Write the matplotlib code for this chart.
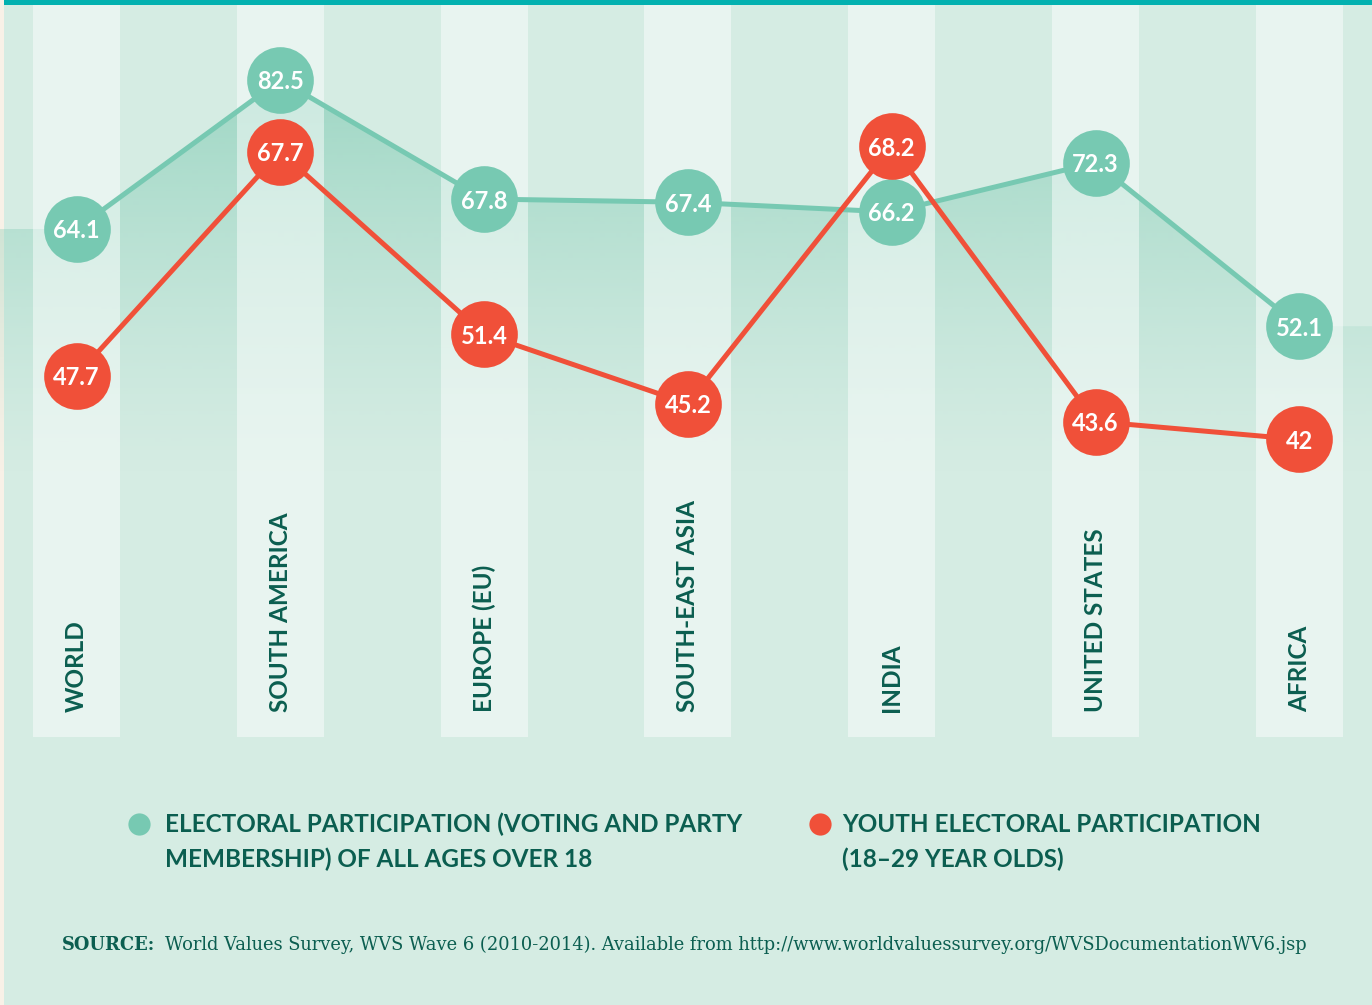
import numpy as np
import matplotlib
matplotlib.use("Agg")
import matplotlib.pyplot as plt
from matplotlib.colors import to_rgb

# ---------------- data ----------------
categories = ["WORLD", "SOUTH AMERICA", "EUROPE (EU)", "SOUTH-EAST ASIA",
              "INDIA", "UNITED STATES", "AFRICA"]
all_ages = [64.1, 82.5, 67.8, 67.4, 66.2, 72.3, 52.1]
youth = [47.7, 67.7, 51.4, 45.2, 68.2, 43.6, 42]
value_labels_all = ["64.1", "82.5", "67.8", "67.4", "66.2", "72.3", "52.1"]
value_labels_youth = ["47.7", "67.7", "51.4", "45.2", "68.2", "43.6", "42"]
legend_all = "ELECTORAL PARTICIPATION (VOTING AND PARTY\nMEMBERSHIP) OF ALL AGES OVER 18"
legend_youth = "YOUTH ELECTORAL PARTICIPATION\n(18\u201329 YEAR OLDS)"
source_head = "SOURCE:"
source_body = ("World Values Survey, WVS Wave 6 (2010-2014). Available from "
               "http://www.worldvaluessurvey.org/WVSDocumentationWV6.jsp")

# ---------------- style ----------------
W, H = 1372, 1005
BG = "#d5ece3"
GREEN = "#77c9b2"
RED = "#f05039"
DARK = "#0b5e50"
FONT = "Lato"

fig = plt.figure(figsize=(W / 100, H / 100), dpi=100)
fig.patch.set_facecolor(BG)

x = np.arange(len(categories))
XLIM = (-0.3754, 6.3567)
G_LIM = (-31.7, 92.37)   # separate value scales for the two series
R_LIM = (-8.5, 81.24)


def make_ax(z):
    a = fig.add_axes([0, 0, 1, 1], zorder=z)
    a.set_xlim(*XLIM)
    a.patch.set_alpha(0)
    a.axis("off")
    return a


# pixel axes for frame decorations
ax_px = make_ax(0)
ax_px.set_xlim(0, W)
ax_px.set_ylim(H, 0)
ax_px.add_patch(plt.Rectangle((0, 0), W, 5, color="#02b1b0", lw=0))
ax_px.add_patch(plt.Rectangle((0, 0), 4, H, color="#f8f1e7", lw=0))

# gradient area under the all-ages line
ax_a = make_ax(1)
ax_a.set_ylim(*G_LIM)
xe = np.concatenate([[XLIM[0]], x, [XLIM[1]]])
ye = np.concatenate([[all_ages[0]], all_ages, [all_ages[-1]]])
poly = ax_a.fill_between(xe, ye, G_LIM[0], facecolor="none", edgecolor="none")
rows = np.arange(H)
alpha = 0.62 * np.clip(1 - (rows - 60) / 420, 0, 1) ** 1.3
grad = np.zeros((H, 1, 4))
grad[..., :3] = to_rgb("#78c8af")
grad[:, 0, 3] = alpha
im = ax_a.imshow(grad, extent=(XLIM[0], XLIM[1], G_LIM[0], G_LIM[1]),
                 origin="upper", aspect="auto", interpolation="bilinear")
im.set_clip_path(poly.get_paths()[0], transform=ax_a.transData)
ax_a.set_xlim(*XLIM)
ax_a.set_ylim(*G_LIM)

# stripes + category labels (pixel vertical scale)
ax_s = make_ax(2)
ax_s.set_ylim(H, 0)
ax_s.bar(x, 732, bottom=5, width=0.427, color="white", alpha=0.47, lw=0)
for xi, c in zip(x, categories):
    ax_s.text(xi, 712, c, rotation=90, rotation_mode="anchor", ha="left",
              va="center", fontsize=17.5, fontweight="bold", family=FONT,
              color=DARK)

# all ages line
ax_g = make_ax(3)
ax_g.set_ylim(*G_LIM)
ax_g.plot(x, all_ages, color=GREEN, lw=3.6, marker="o", ms=48,
          mfc=GREEN, mec="none", solid_capstyle="round")
for xi, v, t in zip(x, all_ages, value_labels_all):
    ax_g.text(xi, v, t, ha="center", va="center_baseline", color="white",
              fontsize=17, fontweight="bold", family=FONT)

# youth line
ax_r = make_ax(4)
ax_r.set_ylim(*R_LIM)
ax_r.plot(x, youth, color=RED, lw=3.6, marker="o", ms=48,
          mfc=RED, mec="none")
for xi, v, t in zip(x, youth, value_labels_youth):
    ax_r.text(xi, v, t, ha="center", va="center_baseline", color="white",
              fontsize=17, fontweight="bold", family=FONT)

# legend and source (pixel axes on top)
ax_t = make_ax(5)
ax_t.set_xlim(0, W)
ax_t.set_ylim(H, 0)
ax_t.scatter([139], [824], s=16 ** 2, color=GREEN, lw=0)
ax_t.scatter([820], [824], s=16 ** 2, color=RED, lw=0)
ax_t.text(165, 813, legend_all, ha="left", va="top", fontsize=17.5,
          fontweight="bold", family=FONT, color=DARK, linespacing=1.58)
ax_t.text(842, 813, legend_youth, ha="left", va="top", fontsize=17.5,
          fontweight="bold", family=FONT, color=DARK, linespacing=1.58)
t1 = ax_t.text(62, 943, source_head, ha="left", va="center_baseline",
               fontsize=12.9, fontweight="bold", family="DejaVu Serif",
               color=DARK)
ax_t.annotate(source_body, xy=(1, 0), xycoords=t1, xytext=(7, 0),
              textcoords="offset points", ha="left", va="bottom",
              fontsize=12.9, family="DejaVu Serif", color=DARK)

fig.savefig("out.png", dpi=100, facecolor=BG)
